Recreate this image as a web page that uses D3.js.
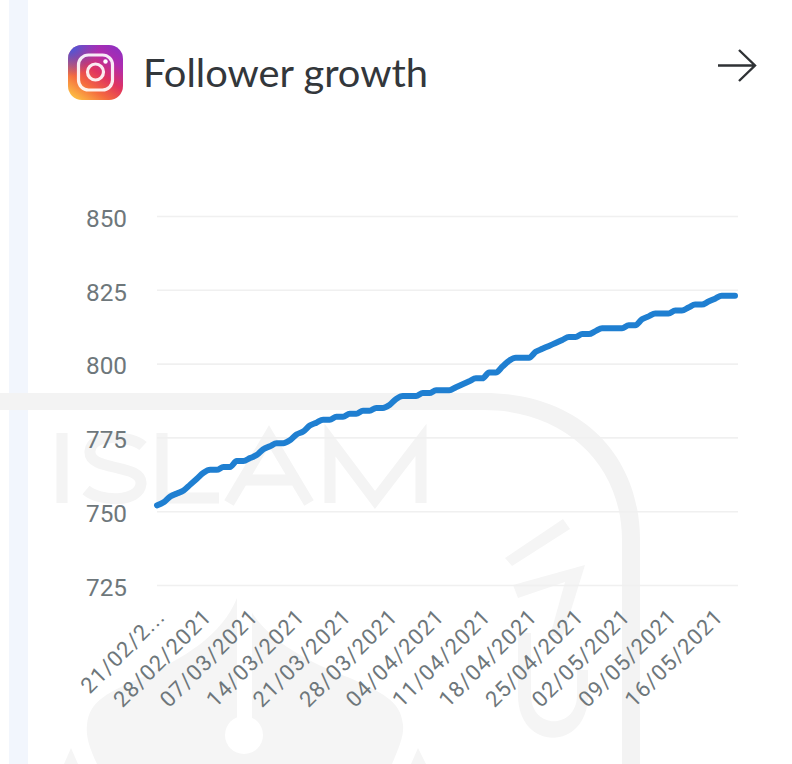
<!DOCTYPE html>
<html>
<head>
<meta charset="utf-8">
<script src="https://cdn.jsdelivr.net/npm/d3@7"></script>
<style>
  html, body { margin: 0; padding: 0; background: #fff; }
  svg { display: block; }
</style>
</head>
<body>
<svg id="chart" width="792" height="764"></svg>
<script>
// Daily follower count, one entry per day starting 21/02/2021
const followers = [
  752,753,755,756,757,759,761,763,764,764,765,765,767,767,768,769,771,772,773,773,
  774,776,777,779,780,781,781,782,782,783,783,784,784,785,785,786,788,789,789,789,
  790,790,791,791,791,792,793,794,795,795,797,797,799,801,802,802,802,804,805,806,
  807,808,809,809,810,810,811,812,812,812,812,813,813,815,816,817,817,817,818,818,
  819,820,820,821,822,823,823,823
];
const weekLabels = [
  "21/02/2...","28/02/2021","07/03/2021","14/03/2021","21/03/2021","28/03/2021",
  "04/04/2021","11/04/2021","18/04/2021","25/04/2021","02/05/2021","09/05/2021","16/05/2021"
];
const weekOffsets = [0,7,14,21,28,35,42,49,56,63,70,77,84];
const valueTicks = [725,750,775,800,825,850];
const chartTitle = "Follower growth";

const svg = d3.select("#chart");
const defs = svg.append("defs");

// Side panel of the host page
svg.append("rect").attr("x", 9).attr("y", 0).attr("width", 19).attr("height", 764).attr("fill", "#f2f6fd");

// Faint institutional watermark behind the chart
const mark = svg.append("g").attr("fill", "#f5f5f5").attr("stroke", "none");
mark.append("path").attr("d",
  "M0,393 L484,393 C580,393 640,455 640,540 L640,764 L622,764 L622,540 C622,465 565,410 484,410 L0,410 Z")
  .attr("fill", "#f3f3f3");
// Wordmark letters, built from thick strokes
mark.append("path").attr("fill", "none").attr("stroke", "#f4f4f4").attr("stroke-width", 11)
  .attr("d", [
    "M62,433 L62,503",
    "M143,446 C132,436 92,432 90,451 C88,472 143,463 141,484 C139,503 100,502 86,490",
    "M162,433 L162,498 L219,498",
    "M229,503 L269,436 L309,503 M244,480 L294,480",
    "M330,503 L330,440 L375,500 L421,440 L421,503"
  ].join(" "));
mark.append("path").attr("d", "M505,558 L563,519 L570,529 L512,566 Z");
mark.append("path").attr("d", "M513,585 L585,565 L563,636 L550,636 L565,582 L518,598 Z");
mark.append("path").attr("d", "M518,633 L531,633 L531,695 C531,730 577,730 577,695 L577,670 L588,670 L588,695 C588,752 518,752 518,695 Z");
mark.append("path").attr("d",
  "M97,764 C88,745 86,735 87,725 C89,700 110,692 140,678 C185,658 222,635 237,598 L244,598 C260,635 298,658 350,678 C380,692 401,700 403,725 C404,735 400,745 392,764 Z");
mark.append("path").attr("d", "M64,764 L71,748 L78,764 Z");
mark.append("path").attr("d", "M411,764 L418,748 L426,764 Z");
svg.append("rect").attr("x", 237).attr("y", 596).attr("width", 15).attr("height", 125).attr("fill", "#fff");
svg.append("circle").attr("cx", 244).attr("cy", 735).attr("r", 19).attr("fill", "#fff");

// Instagram glyph
const base = defs.append("linearGradient").attr("id", "igBase")
  .attr("x1", 0.15).attr("y1", 1).attr("x2", 0.85).attr("y2", 0);
[["0", "#fdc044"], ["0.28", "#f4693f"], ["0.52", "#e0335f"], ["0.78", "#b02cae"], ["1", "#9030c0"]]
  .forEach(([o, c]) => base.append("stop").attr("offset", o).attr("stop-color", c));
const blue = defs.append("radialGradient").attr("id", "igBlue")
  .attr("cx", 0.02).attr("cy", 0.02).attr("r", 0.55);
blue.append("stop").attr("offset", "0").attr("stop-color", "#3a5ce6").attr("stop-opacity", 1);
blue.append("stop").attr("offset", "1").attr("stop-color", "#3a5ce6").attr("stop-opacity", 0);
const icon = svg.append("g");
icon.append("rect").attr("x", 68).attr("y", 45).attr("width", 55).attr("height", 55).attr("rx", 14).attr("fill", "url(#igBase)");
icon.append("rect").attr("x", 68).attr("y", 45).attr("width", 55).attr("height", 55).attr("rx", 14).attr("fill", "url(#igBlue)");
icon.append("rect").attr("x", 78.5).attr("y", 55).attr("width", 34).attr("height", 35).attr("rx", 10)
  .attr("fill", "none").attr("stroke", "#fff").attr("stroke-opacity", 0.9).attr("stroke-width", 3.2);
icon.append("circle").attr("cx", 95.5).attr("cy", 72).attr("r", 8)
  .attr("fill", "none").attr("stroke", "#fff").attr("stroke-opacity", 0.9).attr("stroke-width", 3.2);
icon.append("circle").attr("cx", 105.5).attr("cy", 61.5).attr("r", 2.2).attr("fill", "#fff");

// Title and forward arrow
svg.append("text").attr("x", 143).attr("y", 87)
  .attr("font-family", "Lato, sans-serif").attr("font-size", 38).attr("fill", "#33373b")
  .attr("textLength", 285).attr("lengthAdjust", "spacingAndGlyphs").text(chartTitle);
svg.append("path").attr("d", "M718,65.5 L755,65.5 M739,50 L755,65.5 L739,81")
  .attr("fill", "none").attr("stroke", "#2f3235").attr("stroke-width", 2.4);

// Scales
const x = d3.scaleLinear().domain([0, followers.length - 1]).range([157, 735]);
const y = d3.scaleLinear().domain([725, 850]).range([585, 216]);

// Value axis with full-width gridlines
const yAxis = svg.append("g").attr("transform", "translate(157,0)")
  .call(d3.axisLeft(y).tickValues(valueTicks).tickSize(-581).tickPadding(30));
yAxis.select(".domain").remove();
yAxis.selectAll(".tick line").attr("stroke", "#f0f0f0").attr("stroke-width", 1.6);
yAxis.selectAll(".tick text")
  .attr("font-family", "Roboto, sans-serif").attr("font-size", 23).attr("fill", "#6e777b")
  .attr("dy", "0.45em").attr("textLength", 41).attr("lengthAdjust", "spacingAndGlyphs");

// Weekly date axis with slanted labels
const xAxis = svg.append("g").attr("transform", "translate(0,600)")
  .call(d3.axisBottom(x).tickValues(weekOffsets).tickSize(0)
    .tickFormat((d, i) => weekLabels[i]));
xAxis.select(".domain").remove();
xAxis.selectAll(".tick text")
  .attr("font-family", "Roboto, sans-serif").attr("font-size", 22).attr("fill", "#6e777b")
  .attr("letter-spacing", 1.1)
  .attr("text-anchor", "end").attr("dy", 0).attr("y", 0)
  .attr("transform", "translate(9,18) rotate(-45)");

// Follower line
const line = d3.line().x((d, i) => x(i)).y(d => y(d)).curve(d3.curveMonotoneX);
svg.append("path").datum(followers)
  .attr("d", line)
  .attr("fill", "none").attr("stroke", "#1f7fd1").attr("stroke-width", 6)
  .attr("stroke-linejoin", "round").attr("stroke-linecap", "round");
</script>
</body>
</html>
